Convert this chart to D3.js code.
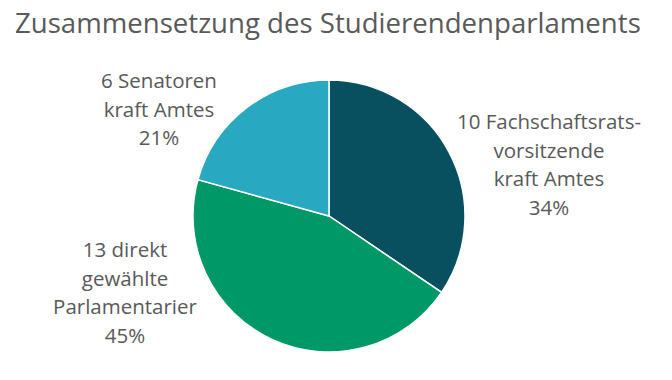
<!DOCTYPE html>
<html><head><meta charset="utf-8">
<script src="https://cdn.jsdelivr.net/npm/d3@7"></script>
<style>html,body{margin:0;padding:0;background:#fff;}</style>
</head><body>
<svg id="c" width="672" height="380"></svg>
<script>
const categories = ["Fachschaftsratsvorsitzende kraft Amtes", "direkt gewählte Parlamentarier", "Senatoren kraft Amtes"];
const values = [10, 13, 6];
const labelLines = [["10 Fachschaftsrats-", "vorsitzende", "kraft Amtes"], ["13 direkt", "gewählte", "Parlamentarier"], ["6 Senatoren", "kraft Amtes"]];
const colors = ["#08505f", "#019868", "#29a9c1"];
const title = "Zusammensetzung des Studierendenparlaments";

// layout (label block centre x and first baseline y)
const labelPos = [{x: 549, y: 129}, {x: 125, y: 257}, {x: 159, y: 88}];
const cx = 329, cy = 216, R = 136;
const font = "Open Sans, sans-serif";
const textColor = "#595959";

const svg = d3.select("#c");
svg.append("text").attr("x", 15).attr("y", 33)
  .attr("font-family", font).attr("font-size", 27.6).attr("fill", textColor)
  .text(title);

const total = d3.sum(values);
const pie = d3.pie().sort(null).value(d => d)(values);
const arc = d3.arc().innerRadius(0).outerRadius(R);
const g = svg.append("g").attr("transform", `translate(${cx},${cy})`);
g.selectAll("path").data(pie).join("path")
  .attr("d", arc).attr("fill", (d, i) => colors[i])
  .attr("stroke", "#fff").attr("stroke-width", 1.5);

const fmt = d3.format(".0%");
labelLines.forEach((lines, i) => {
  const all = lines.concat([fmt(values[i] / total)]);
  const t = svg.append("text").attr("font-family", font).attr("font-size", 20.5)
    .attr("fill", textColor).attr("text-anchor", "middle");
  all.forEach((s, k) => {
    t.append("tspan").attr("x", labelPos[i].x).attr("y", labelPos[i].y + k * 28.5).text(s);
  });
});
</script>
</body></html>
